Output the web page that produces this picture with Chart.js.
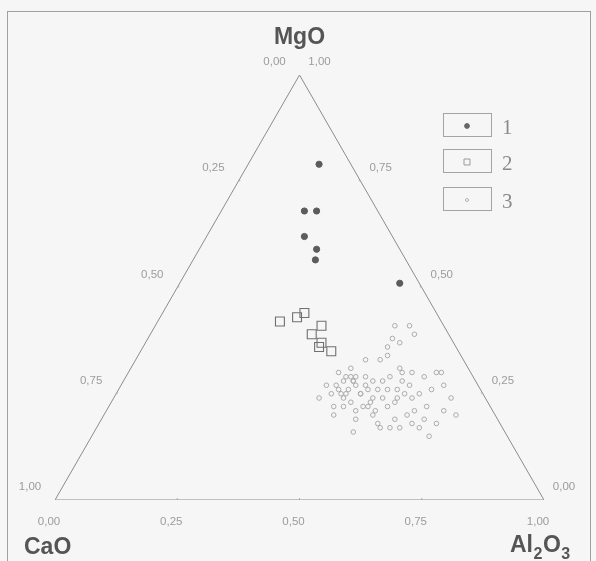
<!DOCTYPE html>
<html>
<head>
<meta charset="utf-8">
<script src="https://cdn.jsdelivr.net/npm/chart.js@4/dist/chart.umd.min.js"></script>
<style>
  html, body { margin: 0; padding: 0; background: #f6f6f6; }
  #wrap { width: 596px; height: 561px; position: relative; }
</style>
</head>
<body>
<div id="wrap"><canvas id="c" width="596" height="561"></canvas></div>
<script>
// Ternary compositions (mass fractions). CaO is the remainder: 1 - MgO - Al2O3.
const components = ['MgO', 'CaO', 'Al2O3'];
const tickValues = [0, 0.25, 0.5, 0.75, 1];
const legendLabels = ['1', '2', '3'];

// Group 1
const mgo1   = [0.79, 0.68, 0.68, 0.62, 0.59, 0.565, 0.51];
const al2o31 = [0.145, 0.17, 0.195, 0.20, 0.24, 0.25, 0.45];

// Group 2
const mgo2   = [0.42, 0.43, 0.44, 0.41, 0.39, 0.37, 0.36, 0.35];
const al2o32 = [0.25, 0.28, 0.29, 0.34, 0.33, 0.36, 0.36, 0.39];

// Group 3
const mgo3 = [
  0.41, 0.41, 0.39, 0.38, 0.36, 0.37, 0.34, 0.33, 0.33, 0.31, 0.30, 0.30, 0.29, 0.30, 0.30,
  0.30, 0.31, 0.29, 0.29, 0.28, 0.28, 0.27, 0.26, 0.26, 0.28, 0.27, 0.27, 0.26, 0.25, 0.25,
  0.24, 0.24, 0.24, 0.24, 0.24, 0.23, 0.22, 0.23, 0.22, 0.23, 0.21, 0.22, 0.21, 0.20, 0.19,
  0.20, 0.18, 0.17, 0.18, 0.19, 0.17, 0.17, 0.15, 0.20, 0.16, 0.22, 0.24, 0.29, 0.27, 0.28,
  0.26, 0.27, 0.25, 0.25, 0.26, 0.29, 0.28, 0.25, 0.22, 0.21, 0.21, 0.22, 0.26, 0.25, 0.25,
  0.26, 0.27, 0.24, 0.17, 0.20, 0.19, 0.18, 0.28, 0.29
];
const al2o33 = [
  0.49, 0.52, 0.54, 0.50, 0.50, 0.52, 0.51, 0.47, 0.50, 0.55, 0.56, 0.58, 0.61, 0.63, 0.64,
  0.43, 0.45, 0.47, 0.49, 0.45, 0.47, 0.48, 0.53, 0.55, 0.57, 0.59, 0.42, 0.45, 0.47, 0.50,
  0.53, 0.55, 0.58, 0.61, 0.47, 0.49, 0.52, 0.53, 0.57, 0.58, 0.63, 0.65, 0.69, 0.47, 0.52,
  0.55, 0.57, 0.60, 0.64, 0.66, 0.58, 0.62, 0.69, 0.72, 0.53, 0.46, 0.42, 0.45, 0.44, 0.47,
  0.47, 0.50, 0.50, 0.46, 0.51, 0.46, 0.51, 0.44, 0.53, 0.55, 0.51, 0.48, 0.57, 0.59, 0.62,
  0.64, 0.66, 0.69, 0.66, 0.62, 0.60, 0.69, 0.53, 0.54
];

const H = Math.sqrt(3) / 2;
// Ternary (MgO, Al2O3) -> cartesian: CaO corner at origin, Al2O3 at (1,0), MgO at apex.
function toXY(mg, al) { return { x: al + mg / 2, y: mg * H }; }
function points(mg, al) { return mg.map((m, i) => toXY(m, al[i])); }

const triangle = [toXY(0, 0), toXY(0, 1), toXY(1, 0), toXY(0, 0)];
const fmt = v => v.toFixed(2).replace('.', ',');

const styles = [
  { pointStyle: 'circle', radius: 3.1, borderColor: '#5c5c5c', backgroundColor: '#5c5c5c', borderWidth: 1 },
  { pointStyle: 'rect', radius: 6.3, borderColor: '#707070', backgroundColor: 'rgba(0,0,0,0)', borderWidth: 1.1 },
  { pointStyle: 'circle', radius: 2.3, borderColor: '#acacac', backgroundColor: 'rgba(0,0,0,0)', borderWidth: 1 }
];
const legendStyles = [
  { radius: 2.4, color: '#666' },
  { radius: 4.2, color: '#9a9a9a' },
  { radius: 1.5, color: '#b4b4b4' }
];

const decorations = {
  id: 'ternaryDecor',
  beforeDraw(chart) {
    const ctx = chart.ctx;
    ctx.save();
    ctx.fillStyle = '#f6f6f6';
    ctx.fillRect(0, 0, chart.width, chart.height);
    ctx.strokeStyle = '#a0a0a0';
    ctx.lineWidth = 1;
    ctx.strokeRect(7.5, 11.5, 583, 560);
    ctx.restore();
  },
  afterDatasetsDraw(chart) {
    const ctx = chart.ctx;
    const sx = chart.scales.x, sy = chart.scales.y;
    const px = p => ({ x: sx.getPixelForValue(p.x), y: sy.getPixelForValue(p.y) });
    ctx.save();

    // edge ticks
    ctx.strokeStyle = '#aaa';
    ctx.lineWidth = 1;
    tickValues.slice(1, -1).forEach(v => {
      const a = px(toXY(0, v)); // base
      ctx.beginPath(); ctx.moveTo(a.x, a.y); ctx.lineTo(a.x, a.y - 2); ctx.stroke();
      const b = px(toXY(1 - v, 0)); // left side
      ctx.beginPath(); ctx.moveTo(b.x, b.y); ctx.lineTo(b.x + 2, b.y - 1); ctx.stroke();
      const c = px(toXY(v, 1 - v)); // right side
      ctx.beginPath(); ctx.moveTo(c.x, c.y); ctx.lineTo(c.x - 2, c.y - 1); ctx.stroke();
    });

    // tick labels
    ctx.font = '11.5px "Liberation Sans", Arial, sans-serif';
    ctx.fillStyle = '#9c9c9c';
    ctx.textAlign = 'center';
    ctx.textBaseline = 'middle';
    tickValues.forEach(v => {
      const l = px(toXY(1 - v, 0));          // CaO along left edge
      ctx.fillText(fmt(v), l.x - 25, l.y - 13);
      const r = px(toXY(v, 1 - v));          // MgO along right edge
      ctx.fillText(fmt(v), r.x + 20, r.y - 13);
      const b = px(toXY(0, v));              // Al2O3 along base
      ctx.fillText(fmt(v), b.x - 6, b.y + 22);
    });

    // component names
    ctx.fillStyle = '#555';
    ctx.font = 'bold 23px "Liberation Sans", Arial, sans-serif';
    ctx.textBaseline = 'alphabetic';
    const top = px(toXY(1, 0));
    ctx.fillText(components[0], top.x, top.y - 31);
    ctx.textAlign = 'left';
    ctx.fillText(components[1], 24, 554);
    // Al2O3 with subscripts
    let x = 510;
    const parts = [['Al', false], ['2', true], ['O', false], ['3', true]];
    parts.forEach(([t, sub]) => {
      ctx.font = sub ? 'bold 16px "Liberation Sans", Arial, sans-serif'
                     : 'bold 23px "Liberation Sans", Arial, sans-serif';
      ctx.fillText(t, x, sub ? 559 : 552);
      x += ctx.measureText(t).width + 0.5;
    });

    // legend
    const boxes = [125, 161, 199];
    boxes.forEach((cy, i) => {
      ctx.strokeStyle = '#a4a4a4';
      ctx.lineWidth = 1;
      ctx.strokeRect(443.5, cy - 11.5, 48, 23);
      const ls = legendStyles[i];
      ctx.strokeStyle = ls.color;
      ctx.fillStyle = i === 0 ? ls.color : 'rgba(0,0,0,0)';
      ctx.lineWidth = 1;
      Chart.helpers.drawPoint(ctx, {
        pointStyle: styles[i].pointStyle, radius: ls.radius, borderWidth: 1, rotation: 0
      }, 467, cy + 1);
      ctx.fillStyle = '#8a8a8a';
      ctx.font = '21px "Liberation Serif", "Times New Roman", serif';
      ctx.textAlign = 'left';
      ctx.textBaseline = 'middle';
      ctx.fillText(legendLabels[i], 502, cy + 3);
    });
    ctx.restore();
  }
};

new Chart(document.getElementById('c'), {
  type: 'scatter',
  data: {
    datasets: [
      {
        label: 'frame', data: triangle, showLine: true, borderColor: '#8c8c8c',
        borderWidth: 1, pointRadius: 0, fill: false
      },
      { label: legendLabels[0], data: points(mgo1, al2o31), pointStyle: styles[0].pointStyle,
        pointRadius: styles[0].radius, borderColor: styles[0].borderColor,
        backgroundColor: styles[0].backgroundColor, pointBorderWidth: styles[0].borderWidth },
      { label: legendLabels[1], data: points(mgo2, al2o32), pointStyle: styles[1].pointStyle,
        pointRadius: styles[1].radius, borderColor: styles[1].borderColor,
        backgroundColor: styles[1].backgroundColor, pointBorderWidth: styles[1].borderWidth },
      { label: legendLabels[2], data: points(mgo3, al2o33), pointStyle: styles[2].pointStyle,
        pointRadius: styles[2].radius, borderColor: styles[2].borderColor,
        backgroundColor: styles[2].backgroundColor, pointBorderWidth: styles[2].borderWidth }
    ]
  },
  options: {
    responsive: false,
    animation: false,
    layout: { padding: { left: 55, right: 52, top: 75, bottom: 61 } },
    scales: {
      x: { type: 'linear', min: 0, max: 1, display: false },
      y: { type: 'linear', min: 0, max: H, display: false }
    },
    plugins: { legend: { display: false }, tooltip: { enabled: false } }
  },
  plugins: [decorations]
});
</script>
</body>
</html>
